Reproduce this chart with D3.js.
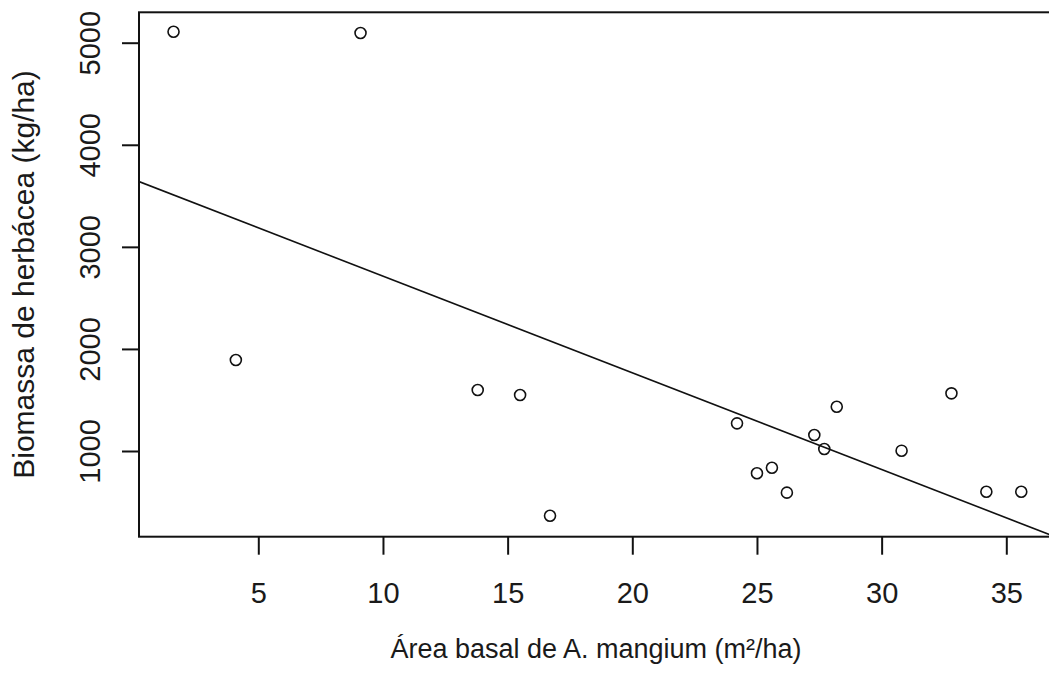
<!DOCTYPE html>
<html>
<head>
<meta charset="utf-8">
<script src="https://cdn.jsdelivr.net/npm/d3@7"></script>
<style>
  html, body { margin: 0; padding: 0; background: #fff; overflow: hidden; }
  text { font-family: "Liberation Sans", Arial, sans-serif; fill: #1a1a1a; }
</style>
</head>
<body>
<div id="chart"></div>
<script>
// data
const areaBasal = [1.6, 9.1, 4.1, 13.8, 15.5, 16.7, 24.2, 25.0, 25.6, 26.2, 27.3, 27.7, 28.2, 30.8, 32.8, 34.2, 35.6];
const biomassa = [5107, 5095, 1891, 1598, 1549, 366, 1271, 782, 836, 592, 1157, 1020, 1434, 1003, 1565, 601, 601];
const xTicks = [5, 10, 15, 20, 25, 30, 35];
const yTicks = [1000, 2000, 3000, 4000, 5000];
const fitIntercept = 3660;
const fitSlope = -94.7;

const W = 1049, H = 691;
const plot = { left: 139, top: 12.3, right: 1058, bottom: 536.7 };

const svg = d3.select("#chart")
    .append("svg")
    .attr("width", W)
    .attr("height", H);

const x = d3.scaleLinear().domain([5, 35]).range([258.3, 1006.3]);
const y = d3.scaleLinear().domain([1000, 5000]).range([451, 42.7]);

svg.append("clipPath")
    .attr("id", "clip")
    .append("rect")
    .attr("x", plot.left)
    .attr("y", plot.top)
    .attr("width", plot.right - plot.left)
    .attr("height", plot.bottom - plot.top);

// regression line
const x0 = x.invert(plot.left), x1 = x.invert(plot.right);
svg.append("line")
    .attr("clip-path", "url(#clip)")
    .attr("x1", x(x0)).attr("y1", y(fitIntercept + fitSlope * x0))
    .attr("x2", x(x1)).attr("y2", y(fitIntercept + fitSlope * x1))
    .attr("stroke", "#111")
    .attr("stroke-width", 1.6);

// points
svg.append("g")
    .selectAll("circle")
    .data(areaBasal.map((d, i) => ({ a: d, b: biomassa[i] })))
    .join("circle")
    .attr("cx", d => x(d.a))
    .attr("cy", d => y(d.b))
    .attr("r", 5.5)
    .attr("fill", "none")
    .attr("stroke", "#111")
    .attr("stroke-width", 1.6);

// box
svg.append("rect")
    .attr("x", plot.left)
    .attr("y", plot.top)
    .attr("width", plot.right - plot.left)
    .attr("height", plot.bottom - plot.top)
    .attr("fill", "none")
    .attr("stroke", "#111")
    .attr("stroke-width", 2);

// axes
const xAxis = svg.append("g")
    .attr("transform", `translate(0,${plot.bottom})`)
    .call(d3.axisBottom(x).tickValues(xTicks).tickSize(18).tickPadding(0).tickFormat(d3.format("d")));
xAxis.select(".domain").remove();
xAxis.selectAll("line").attr("stroke", "#111").attr("stroke-width", 2);
xAxis.selectAll("text")
    .attr("y", 66)
    .attr("dy", null)
    .style("font-size", "29px")
    .style("font-family", "'Liberation Sans', Arial, sans-serif")
    .attr("fill", "#1a1a1a");

const yAxis = svg.append("g")
    .attr("transform", `translate(${plot.left},0)`)
    .call(d3.axisLeft(y).tickValues(yTicks).tickSize(17).tickPadding(0).tickFormat(d3.format("d")));
yAxis.select(".domain").remove();
yAxis.selectAll("line").attr("stroke", "#111").attr("stroke-width", 2);
yAxis.selectAll("text")
    .attr("x", null)
    .attr("dy", null)
    .attr("transform", "translate(-39,0) rotate(-90)")
    .attr("text-anchor", "middle")
    .style("font-size", "29px")
    .style("font-family", "'Liberation Sans', Arial, sans-serif")
    .attr("fill", "#1a1a1a");

// axis titles
svg.append("text")
    .attr("x", 596)
    .attr("y", 658)
    .attr("text-anchor", "middle")
    .style("font-size", "27px")
    .text("Área basal de A. mangium (m²/ha)");

svg.append("text")
    .attr("transform", `translate(34,${(plot.top + plot.bottom) / 2}) rotate(-90)`)
    .attr("text-anchor", "middle")
    .style("font-size", "30px")
    .text("Biomassa de herbácea (kg/ha)");
</script>
</body>
</html>
